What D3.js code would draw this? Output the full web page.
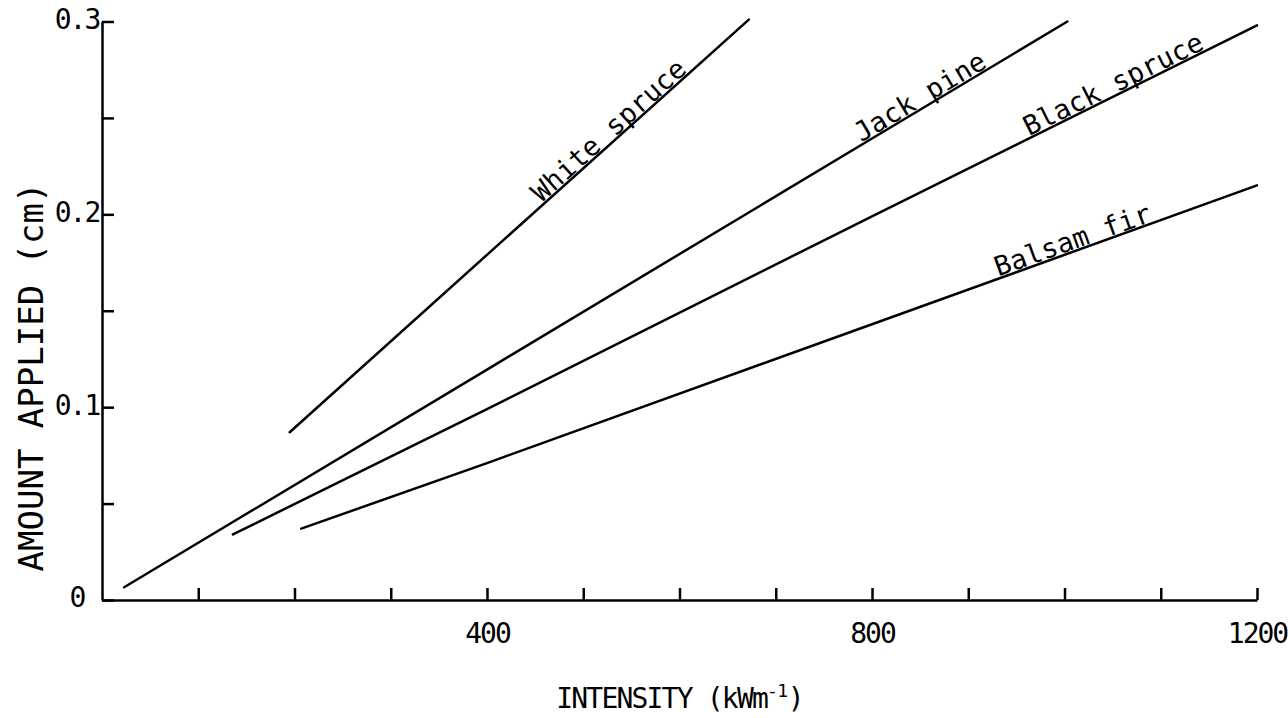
<!DOCTYPE html>
<html>
<head>
<meta charset="utf-8">
<script src="https://cdn.jsdelivr.net/npm/d3@7"></script>
<style>
  html, body { margin: 0; padding: 0; background: #fff; }
  svg { display: block; }
  text { font-family: "DejaVu Sans Mono", monospace; fill: #000; }
</style>
</head>
<body>
<svg id="chart" width="1288" height="718"></svg>
<script>
// Fuel consumed (amount applied) against fire intensity, by species
const speciesNames = ["White spruce", "Jack pine", "Black spruce", "Balsam fir"];

// [intensity kW/m, amount applied cm]
const whiteSpruce = [[195, 0.087], [400, 0.179], [672, 0.301]];
const jackPine    = [[23, 0.0066], [400, 0.1195], [800, 0.2393], [1003, 0.300]];
const blackSpruce = [[136, 0.034], [400, 0.099], [800, 0.199], [1200, 0.298]];
const balsamFir   = [[207, 0.037], [400, 0.071], [800, 0.143], [1200, 0.215]];

// intensity at which each species name begins along its line
const labelStart = [458, 790, 964, 932];

const xTickValues = [100, 200, 300, 400, 500, 600, 700, 800, 900, 1000, 1100, 1200];
const xTickLabels = [400, 800, 1200];
const yTickValues = [0, 0.05, 0.1, 0.15, 0.2, 0.25, 0.3];
const yTickLabels = [0, 0.1, 0.2, 0.3];

const xTitle = "INTENSITY (kWm";
const xTitleSup = "-1";
const yTitle = "AMOUNT APPLIED (cm)";

const series = [whiteSpruce, jackPine, blackSpruce, balsamFir];

const margin = { left: 102, right: 31, top: 21.5, bottom: 118 };
const W = 1288, H = 718;

const svg = d3.select("#chart");

const x = d3.scaleLinear().domain([0, 1200]).range([margin.left, W - margin.right]);
const y = d3.scaleLinear().domain([0, 0.3]).range([H - margin.bottom, margin.top]);

// x axis: ticks point up into the plot, only every 400 is numbered
const xAxis = d3.axisBottom(x)
  .tickValues(xTickValues)
  .tickSizeInner(-12)
  .tickSizeOuter(0)
  .tickPadding(23)
  .tickFormat(d => xTickLabels.includes(d) ? String(d) : "");

const gx = svg.append("g")
  .attr("transform", `translate(0,${y(0)})`)
  .call(xAxis);
gx.selectAll("path, line").attr("stroke", "#000").attr("stroke-width", 2.5);
gx.selectAll("text")
  .attr("font-family", "DejaVu Sans Mono")
  .attr("font-size", 28)
  .attr("letter-spacing", -2)
  .attr("fill", "#000");

// y axis: ticks point right, labels centred in the left gutter
const yAxis = d3.axisLeft(y)
  .tickValues(yTickValues)
  .tickSizeInner(-12)
  .tickSizeOuter(0)
  .tickFormat(d => yTickLabels.includes(d) ? (d === 0 ? "0" : d3.format(".1f")(d)) : "");

const gy = svg.append("g")
  .attr("transform", `translate(${x(0)},0)`)
  .call(yAxis);
gy.selectAll("path, line").attr("stroke", "#000").attr("stroke-width", 2.5);
gy.selectAll("text")
  .attr("x", -25)
  .attr("dy", "0.32em")
  .attr("y", -2)
  .attr("text-anchor", "middle")
  .attr("font-family", "DejaVu Sans Mono")
  .attr("font-size", 28)
  .attr("letter-spacing", -2)
  .attr("fill", "#000");

// species lines
const line = d3.line().x(d => x(d[0])).y(d => y(d[1]));

svg.append("g")
  .selectAll("path")
  .data(series)
  .join("path")
  .attr("d", line)
  .attr("fill", "none")
  .attr("stroke", "#000")
  .attr("stroke-width", 2.5)
  .attr("stroke-linecap", "round");

// species names written along their lines
function valueAt(pts, xv) {
  for (let i = 1; i < pts.length; i++) {
    if (xv <= pts[i][0] || i === pts.length - 1) {
      const [x0, y0] = pts[i - 1], [x1, y1] = pts[i];
      return y0 + (y1 - y0) * (xv - x0) / (x1 - x0);
    }
  }
}

speciesNames.forEach((name, i) => {
  const pts = series[i];
  const a = pts[0], b = pts[pts.length - 1];
  const ang = Math.atan2(y(b[1]) - y(a[1]), x(b[0]) - x(a[0])) * 180 / Math.PI;
  const xv = labelStart[i];
  const px = x(xv), py = y(valueAt(pts, xv));
  svg.append("text")
    .attr("transform", `translate(${px},${py}) rotate(${ang})`)
    .attr("dy", -2)
    .attr("font-size", 27)
    .attr("letter-spacing", 0.2)
    .text(name);
});

// axis titles
const xt = svg.append("text")
  .attr("x", (x(0) + x(1200)) / 2)
  .attr("y", 708)
  .attr("text-anchor", "middle")
  .attr("font-size", 28)
  .attr("letter-spacing", -1.8);
xt.append("tspan").text(xTitle);
xt.append("tspan").attr("font-size", 18).attr("letter-spacing", -0.5).attr("dy", -11).text(xTitleSup);
xt.append("tspan").attr("dy", 11).text(")");

svg.append("text")
  .attr("transform", `translate(43,377) rotate(-90)`)
  .attr("text-anchor", "middle")
  .attr("font-size", 34)
  .text(yTitle);
</script>
</body>
</html>
